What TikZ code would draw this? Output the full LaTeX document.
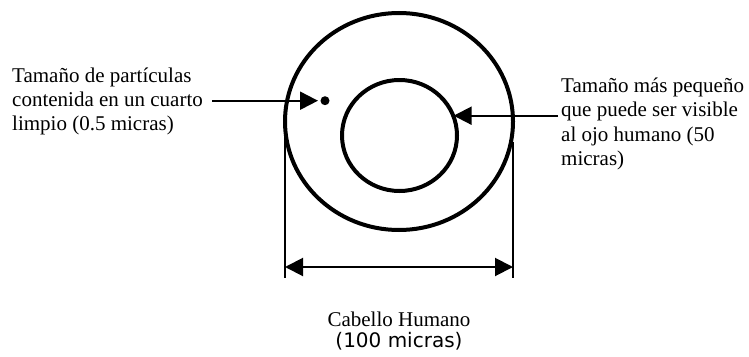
\documentclass[tikz,border=0pt]{standalone}
\usepackage{fontspec}
\setmainfont{Liberation Serif}
\newfontfamily\capsans{DejaVu Sans}
\usetikzlibrary{shapes.geometric,arrows.meta}
\tikzset{
  ring/.style={draw, ellipse, inner sep=0pt, line width=4pt},
  lbl/.style={inner sep=0pt, align=left, anchor=north west},
  conn/.style={line width=2pt, -{Triangle[length=18pt,width=18pt]}},
  dimline/.style={line width=2pt},
  dimarrow/.style={line width=2pt, {Triangle[length=18pt,width=18pt]}-{Triangle[length=18pt,width=18pt]}}
}
\begin{document}
\begin{tikzpicture}[x=1pt,y=-1pt]
\useasboundingbox (0,0) rectangle (749,356);
% rings
\node[ring, minimum width=228pt, minimum height=217pt] (outer) at (399,121.5) {};
\node[ring, minimum width=115pt, minimum height=111pt] (inner) at (399.5,135.5) {};
% labels
\node[lbl, font=\fontsize{21}{24}\selectfont] (lt) at (12,67.5)
  {Tamaño de partículas\\contenida en un cuarto\\limpio (0.5 micras)};
\node[lbl, font=\fontsize{21}{24.5}\selectfont] (rt) at (561,77.5)
  {Tamaño más pequeño\\que puede ser visible\\al ojo humano (50\\micras)};
\node[inner sep=0pt, align=center, anchor=north, font=\fontsize{21}{21.5}\selectfont] (bt) at (399,311.5)
  {Cabello Humano\\{\capsans\fontsize{20}{21.5}\selectfont (100 micras)}};
% particle dot
\node[circle, fill, inner sep=0pt, minimum size=9pt] (dot) at (325,100.7) {};
% connector coordinates
\coordinate (ls) at (212,100.7);
\coordinate (ltip) at (318,100.7);
\coordinate (rs) at (558,115.7);
\coordinate (rtip) at (453.6,115.7);
\draw[conn] (ls) -- (ltip);
\draw[conn] (rs) -- (rtip);
% dimension
\coordinate (dl1) at (285,127);
\coordinate (dl2) at (285,278);
\coordinate (dr1) at (513,142);
\coordinate (dr2) at (513,278);
\coordinate (dA) at (285,267);
\coordinate (dB) at (513,267);
\draw[dimline] (dl1) -- (dl2);
\draw[dimline] (dr1) -- (dr2);
\draw[dimarrow] (dA) -- (dB);
\end{tikzpicture}
\end{document}
